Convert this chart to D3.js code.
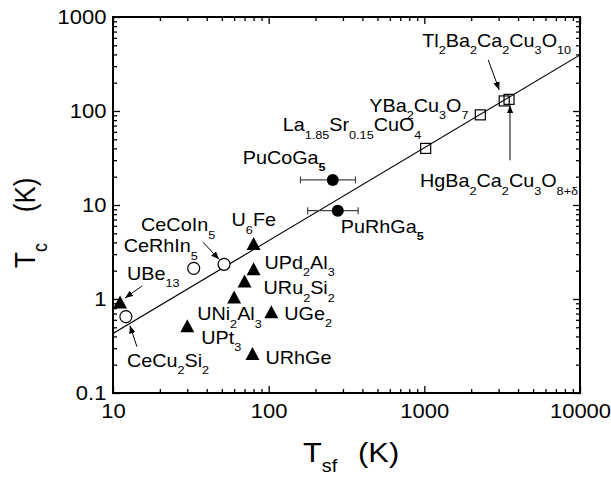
<!DOCTYPE html>
<html>
<head>
<meta charset="utf-8">
<script src="https://cdn.jsdelivr.net/npm/d3@7"></script>
<style>
body { margin: 0; background: #fff; }
svg text { font-family: "Liberation Sans", Arial, Helvetica, sans-serif; fill: #000; }
</style>
</head>
<body>
<div id="chart"></div>
<script>
// cuprates - open squares
var cuprateNames = ["La_{1.85}Sr_{0.15}CuO_{4}", "YBa_{2}Cu_{3}O_{7}", "Tl_{2}Ba_{2}Ca_{2}Cu_{3}O_{10}", "HgBa_{2}Ca_{2}Cu_{3}O_{8+δ}"];
var cuprateTsf = [1020, 2290, 3260, 3500];
var cuprateTc = [40, 91, 128, 133];

// Ce compounds - open circles
var ceNames = ["CeCu_{2}Si_{2}", "CeRhIn_{5}", "CeCoIn_{5}"];
var ceTsf = [12.1, 33, 51.7];
var ceTc = [0.65, 2.12, 2.34];

// U compounds - filled triangles
var uNames = ["UBe_{13}", "U_{6}Fe", "UPd_{2}Al_{3}", "URu_{2}Si_{2}", "UNi_{2}Al_{3}", "UGe_{2}", "UPt_{3}", "URhGe"];
var uTsf = [11.1, 80, 80, 70, 60, 104, 30, 78.7];
var uTc = [0.93, 3.9, 2.1, 1.55, 1.05, 0.73, 0.52, 0.263];

// Pu compounds - filled circles with Tsf error bars
var puNames = ["PuCoGa_[5]", "PuRhGa_[5]"];
var puTsf = [258, 278];
var puTc = [18.5, 8.7];
var puTsfLow = [160, 178];
var puTsfHigh = [361, 376];

// straight line through the points
var fitTsf = [10, 10000];
var fitTc = [0.43, 395];

var xTicks = [10, 100, 1000, 10000];
var xTickLabels = ["10", "100", "1000", "10000"];
var yTicks = [0.1, 1, 10, 100, 1000];
var yTickLabels = ["0.1", "1", "10", "100", "1000"];

// label offsets from the marker (px), arrows as [fromDx, fromDy, toDx, toDy]
var cuprateLabelOffset = [[-143, -17], [-111, -3], [-82, -54], [-89, 88]];
var cuprateArrows = [null, null, [-16, -41, -5, -11], [1, 61, 1, 6]];
var ceLabelOffset = [[1, 50], [-70, -16], [-83, -33]];
var ceArrows = [[11, 30, 4, 9], null, [-21, -22, -5, -5]];
var uLabelOffset = [[7, -22], [-22, -17], [11, 0], [19, 13], [-37, 23], [13, 8], [14, 18], [13, 10]];
var uArrows = [[22, -16, 5, -4], null, null, null, null, null, null, null];
var puLabelOffset = [[-90, -16], [3, 22]];

var TcChart = {
    stretch: 1.1,

    init: function(){
        this.width = 611;
        this.height = 477;
        this.x = d3.scaleLog().domain([10, 10000]).range([113, 580]);
        this.y = d3.scaleLog().domain([0.1, 1000]).range([393, 17]);
        this.svg = d3.select("#chart").append("svg")
            .attr("width", this.width)
            .attr("height", this.height);
        this.buildDefs();
        this.buildAxes();
        this.drawFit();
        this.drawSeries();
        this.drawTitles();
    },

    buildDefs: function(){
        var defs = this.svg.append("defs");
        defs.append("clipPath").attr("id", "plotClip")
            .append("rect")
            .attr("x", this.x.range()[0]).attr("y", this.y.range()[1])
            .attr("width", this.x.range()[1] - this.x.range()[0])
            .attr("height", this.y.range()[0] - this.y.range()[1]);
        defs.append("marker")
            .attr("id", "arrowHead")
            .attr("viewBox", "0 -4 10 8")
            .attr("refX", 10).attr("refY", 0)
            .attr("markerWidth", 8).attr("markerHeight", 6.4)
            .attr("markerUnits", "userSpaceOnUse")
            .attr("orient", "auto")
            .append("path").attr("d", "M0,-4L10,0L0,4Z").attr("fill", "#000");
    },

    buildAxes: function(){
        var self = this;
        var x = this.x, y = this.y;
        var x0 = x.range()[0], x1 = x.range()[1], y0 = y.range()[0], y1 = y.range()[1];
        var xMinor = x.ticks().filter(function(v){ return xTicks.indexOf(v) < 0; });
        var yMinor = y.ticks().filter(function(v){ return yTicks.some(function(t){ return Math.abs(t - v) / t < 1e-6; }) === false; });

        function addAxis(axis, tx, ty){
            var g = self.svg.append("g")
                .attr("transform", "translate(" + tx + "," + ty + ")")
                .call(axis);
            g.select(".domain").remove();
            g.selectAll("line").attr("stroke", "#000").attr("stroke-width", 1.3);
            return g;
        }

        // major ticks
        var bottom = addAxis(d3.axisBottom(x).tickValues(xTicks).tickSize(-7).tickPadding(11)
            .tickFormat(function(d, i){ return xTickLabels[i]; }), 0, y0);
        var left = addAxis(d3.axisLeft(y).tickValues(yTicks).tickSize(-7).tickPadding(6)
            .tickFormat(function(d, i){ return yTickLabels[i]; }), x0, 0);
        addAxis(d3.axisTop(x).tickValues(xTicks).tickSize(-7).tickFormat(""), 0, y1);
        addAxis(d3.axisRight(y).tickValues(yTicks).tickSize(-7).tickFormat(""), x1, 0);

        // minor ticks
        addAxis(d3.axisBottom(x).tickValues(xMinor).tickSize(-4).tickFormat(""), 0, y0);
        addAxis(d3.axisTop(x).tickValues(xMinor).tickSize(-4).tickFormat(""), 0, y1);
        addAxis(d3.axisLeft(y).tickValues(yMinor).tickSize(-4).tickFormat(""), x0, 0);
        addAxis(d3.axisRight(y).tickValues(yMinor).tickSize(-4).tickFormat(""), x1, 0);

        [bottom, left].forEach(function(g){
            g.selectAll("text")
                .attr("font-size", 20)
                .attr("fill", "#000")
                .style("font-family", "'Liberation Sans', Arial, sans-serif")
                .attr("transform", "scale(" + self.stretch + ",1)");
        });

        this.svg.append("rect")
            .attr("x", x0).attr("y", y1)
            .attr("width", x1 - x0).attr("height", y0 - y1)
            .attr("fill", "none")
            .attr("stroke", "#000")
            .attr("stroke-width", 2);
    },

    drawFit: function(){
        var self = this;
        var pts = fitTsf.map(function(v, i){ return [v, fitTc[i]]; });
        this.svg.append("path")
            .attr("clip-path", "url(#plotClip)")
            .attr("d", d3.line().x(function(d){ return self.x(d[0]); }).y(function(d){ return self.y(d[1]); })(pts))
            .attr("fill", "none")
            .attr("stroke", "#000")
            .attr("stroke-width", 1.2);
    },

    // text with _{sub} and _[bold sub] parts
    addRich: function(px, py, str, size, subSize, subShift, rotate){
        var t = "translate(" + px + "," + py + ") scale(" + this.stretch + ",1)";
        if (rotate) t += " rotate(-90)";
        var text = this.svg.append("text").attr("transform", t).attr("font-size", size);
        var re = /_(\{([^}]*)\}|\[([^\]]*)\])/g;
        var last = 0, shifted = false, m;
        while ((m = re.exec(str)) !== null){
            if (m.index > last){
                text.append("tspan").attr("dy", shifted ? -subShift : 0).text(str.slice(last, m.index));
                shifted = false;
            }
            var sub = text.append("tspan")
                .attr("font-size", subSize)
                .attr("dy", shifted ? 0 : subShift)
                .text(m[2] !== undefined ? m[2] : m[3]);
            if (m[3] !== undefined) sub.attr("font-weight", "bold");
            shifted = true;
            last = re.lastIndex;
        }
        if (last < str.length){
            text.append("tspan").attr("dy", shifted ? -subShift : 0).text(str.slice(last));
        }
        return text;
    },

    addArrow: function(cx, cy, a){
        this.svg.append("line")
            .attr("x1", cx + a[0]).attr("y1", cy + a[1])
            .attr("x2", cx + a[2]).attr("y2", cy + a[3])
            .attr("stroke", "#000")
            .attr("stroke-width", 1)
            .attr("marker-end", "url(#arrowHead)");
    },

    annotate: function(names, tsf, tc, offsets, arrows){
        var self = this;
        names.forEach(function(name, i){
            var cx = self.x(tsf[i]), cy = self.y(tc[i]);
            self.addRich(cx + offsets[i][0], cy + offsets[i][1], name, 18, 11.5, 7.5);
            if (arrows && arrows[i]) self.addArrow(cx, cy, arrows[i]);
        });
    },

    drawSeries: function(){
        var self = this;
        var x = this.x, y = this.y;
        var idx = function(arr){ return arr.map(function(d, i){ return i; }); };

        // error bars
        var eb = this.svg.append("g").attr("stroke", "#444").attr("stroke-width", 1.2);
        idx(puTsf).forEach(function(i){
            var yy = y(puTc[i]);
            eb.append("line").attr("x1", x(puTsfLow[i])).attr("x2", x(puTsfHigh[i])).attr("y1", yy).attr("y2", yy);
            eb.append("line").attr("x1", x(puTsfLow[i])).attr("x2", x(puTsfLow[i])).attr("y1", yy - 3.5).attr("y2", yy + 3.5);
            eb.append("line").attr("x1", x(puTsfHigh[i])).attr("x2", x(puTsfHigh[i])).attr("y1", yy - 3.5).attr("y2", yy + 3.5);
        });

        this.svg.append("g").selectAll("rect")
            .data(idx(cuprateTsf)).enter().append("rect")
            .attr("x", function(i){ return x(cuprateTsf[i]) - 5; })
            .attr("y", function(i){ return y(cuprateTc[i]) - 5; })
            .attr("width", 10).attr("height", 10)
            .attr("fill", "none").attr("stroke", "#000").attr("stroke-width", 1.2);

        this.svg.append("g").selectAll("circle")
            .data(idx(ceTsf)).enter().append("circle")
            .attr("cx", function(i){ return x(ceTsf[i]); })
            .attr("cy", function(i){ return y(ceTc[i]); })
            .attr("r", 6)
            .attr("fill", "#fff").attr("stroke", "#000").attr("stroke-width", 1.2);

        this.svg.append("g").selectAll("path")
            .data(idx(uTsf)).enter().append("path")
            .attr("transform", function(i){ return "translate(" + x(uTsf[i]) + "," + y(uTc[i]) + ")"; })
            .attr("d", "M0,-6.5L7,6.5L-7,6.5Z")
            .attr("fill", "#000");

        this.svg.append("g").selectAll("circle")
            .data(idx(puTsf)).enter().append("circle")
            .attr("cx", function(i){ return x(puTsf[i]); })
            .attr("cy", function(i){ return y(puTc[i]); })
            .attr("r", 6)
            .attr("fill", "#000");

        this.annotate(cuprateNames, cuprateTsf, cuprateTc, cuprateLabelOffset, cuprateArrows);
        this.annotate(ceNames, ceTsf, ceTc, ceLabelOffset, ceArrows);
        this.annotate(uNames, uTsf, uTc, uLabelOffset, uArrows);
        this.annotate(puNames, puTsf, puTc, puLabelOffset, null);
    },

    drawTitles: function(){
        var xt = this.addRich(303, 462, "T_{sf}", 28, 18, 10);
        xt.append("tspan").attr("dy", -10).attr("dx", 19).text("(K)");
        var yt = this.addRich(35, 268, "T_{c}", 26, 18, 11, true);
        yt.append("tspan").attr("dy", -11).attr("dx", 31).text("(K)");
    }
};

TcChart.init();
</script>
</body>
</html>
